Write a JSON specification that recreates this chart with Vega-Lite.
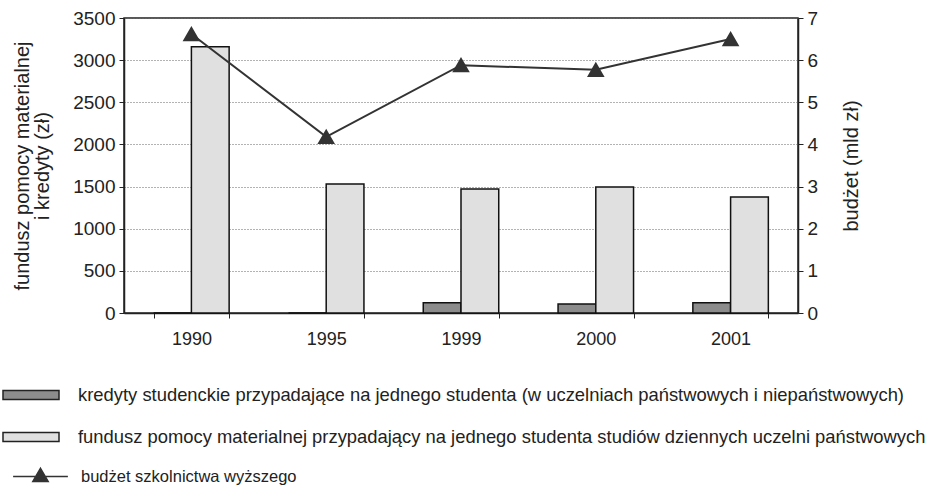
{
  "$schema": "https://vega.github.io/schema/vega-lite/v6.json",
  "width": 674,
  "height": 295,
  "autosize": {"type": "none"},
  "padding": {"left": 124, "top": 18, "right": 131, "bottom": 182},
  "background": "white",
  "config": {
    "font": "Liberation Sans",
    "view": {"stroke": "#222", "strokeWidth": 1.5},
    "axis": {"labelColor": "#222", "titleColor": "#222", "domainColor": "#222", "tickColor": "#222", "domainWidth": 1.5, "tickWidth": 1, "titleFontWeight": "normal"}
  },
  "datasets": {
    "bars": [
      {"year": "1990", "series": "kredyty studenckie przypadające na jednego studenta (w uczelniach państwowych i niepaństwowych)", "value": 0},
      {"year": "1990", "series": "fundusz pomocy materialnej przypadający na jednego studenta studiów dziennych uczelni państwowych", "value": 3160},
      {"year": "1995", "series": "kredyty studenckie przypadające na jednego studenta (w uczelniach państwowych i niepaństwowych)", "value": 0},
      {"year": "1995", "series": "fundusz pomocy materialnej przypadający na jednego studenta studiów dziennych uczelni państwowych", "value": 1530},
      {"year": "1999", "series": "kredyty studenckie przypadające na jednego studenta (w uczelniach państwowych i niepaństwowych)", "value": 122},
      {"year": "1999", "series": "fundusz pomocy materialnej przypadający na jednego studenta studiów dziennych uczelni państwowych", "value": 1470},
      {"year": "2000", "series": "kredyty studenckie przypadające na jednego studenta (w uczelniach państwowych i niepaństwowych)", "value": 107},
      {"year": "2000", "series": "fundusz pomocy materialnej przypadający na jednego studenta studiów dziennych uczelni państwowych", "value": 1495},
      {"year": "2001", "series": "kredyty studenckie przypadające na jednego studenta (w uczelniach państwowych i niepaństwowych)", "value": 122},
      {"year": "2001", "series": "fundusz pomocy materialnej przypadający na jednego studenta studiów dziennych uczelni państwowych", "value": 1375}
    ],
    "budget": [
      {"year": "1990", "budget": 6.62},
      {"year": "1995", "budget": 4.18},
      {"year": "1999", "budget": 5.88},
      {"year": "2000", "budget": 5.77},
      {"year": "2001", "budget": 6.5}
    ]
  },
  "layer": [
    {
      "data": {"name": "bars"},
      "mark": {"type": "bar", "stroke": "#111", "strokeWidth": 1.5},
      "encoding": {
        "x": {
          "field": "year", "type": "nominal", "sort": ["1990", "1995", "1999", "2000", "2001"],
          "scale": {"paddingInner": 0.44, "paddingOuter": 0.22},
          "axis": {"title": null, "labelAngle": 0, "labelFontSize": 18, "labelPadding": 12, "tickBand": "extent", "tickSize": 5, "domainWidth": 1.5}
        },
        "xOffset": {
          "field": "series", "type": "nominal",
          "sort": ["kredyty studenckie przypadające na jednego studenta (w uczelniach państwowych i niepaństwowych)", "fundusz pomocy materialnej przypadający na jednego studenta studiów dziennych uczelni państwowych"],
          "scale": {"paddingInner": 0, "paddingOuter": 0}
        },
        "y": {
          "field": "value", "type": "quantitative",
          "scale": {"domain": [0, 3500], "nice": false},
          "axis": {
            "orient": "left", "values": [0, 500, 1000, 1500, 2000, 2500, 3000, 3500], "format": "d",
            "title": ["fundusz pomocy materialnej", "i kredyty (zł)"], "titleFontSize": 20, "titleLineHeight": 20, "titlePadding": 20,
            "labelFontSize": 19, "labelPadding": 4, "tickSize": 5,
            "grid": true, "gridDash": [1, 2], "gridColor": "#666", "gridWidth": 1
          }
        },
        "fill": {
          "field": "series", "type": "nominal",
          "scale": {
            "domain": ["kredyty studenckie przypadające na jednego studenta (w uczelniach państwowych i niepaństwowych)", "fundusz pomocy materialnej przypadający na jednego studenta studiów dziennych uczelni państwowych"],
            "range": ["#8c8c8c", "#e0e0e0"]
          },
          "legend": {
            "orient": "none", "legendX": -122, "legendY": 348, "direction": "vertical", "title": null,
            "symbolType": "M-1,-0.16H1V0.16H-1Z", "symbolSize": 3136, "symbolStrokeColor": "#222", "symbolStrokeWidth": 1.5,
            "symbolOpacity": 1, "labelFontSize": 18.4, "labelColor": "#222", "labelOffset": 18, "labelLimit": 0, "rowPadding": 3, "padding": 0
          }
        }
      }
    },
    {
      "data": {"name": "budget"},
      "encoding": {
        "x": {"field": "year", "type": "nominal", "sort": ["1990", "1995", "1999", "2000", "2001"]},
        "y": {
          "field": "budget", "type": "quantitative",
          "scale": {"domain": [0, 7], "nice": false},
          "axis": {
            "orient": "right", "values": [0, 1, 2, 3, 4, 5, 6, 7], "format": "d", "title": "budżet (mld zł)", "titleFontSize": 20, "titlePadding": 44, "titleAngle": 270,
            "labelFontSize": 19, "labelPadding": 4, "tickSize": 5, "grid": false
          }
        }
      },
      "layer": [
        {"mark": {"type": "line", "stroke": "#333", "strokeWidth": 2}},
        {
          "mark": {"type": "point", "shape": "triangle-up", "filled": true, "fill": "#333", "size": 200, "opacity": 1},
          "encoding": {
            "stroke": {
              "datum": "budżet szkolnictwa wyższego",
              "scale": {"domain": ["budżet szkolnictwa wyższego"], "range": ["#333"]},
              "legend": {
                "orient": "none", "legendX": -112, "legendY": 430, "title": null,
                "symbolType": "M-1,0H1M0,-0.3L0.28,0.18L-0.28,0.18Z", "symbolSize": 3000, "symbolFillColor": "#333", "symbolStrokeWidth": 1.5,
                "labelFontSize": 16.5, "labelColor": "#222", "labelOffset": 12, "labelLimit": 0, "padding": 0
              }
            }
          }
        }
      ]
    }
  ],
  "resolve": {"scale": {"y": "independent"}}
}
